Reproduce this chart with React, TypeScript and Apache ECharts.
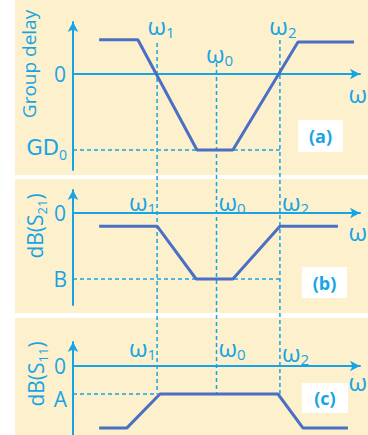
import React, { useEffect, useRef } from 'react';
import * as echarts from 'echarts';

const CYAN = '#18a4e4';
const LINE = '#4a6fc4';
const BEIGE = '#fdf0cd';
const FONT = '"Open Sans", "DejaVu Sans", sans-serif';

// frequency axis (arbitrary units)
const X_RANGE = [0, 10];
const OMEGA_SUBS = ['1', '0', '2'];
const OMEGA_VALUES = [2.93, 5.0, 7.21]; // ω1, ω0, ω2

// (a) group delay
const GD_X = [0.91, 2.26, 4.32, 5.57, 7.84, 9.79];
const GD_Y = [0.45, 0.45, -1, -1, 0.42, 0.42];
const GD_RANGE = [-1.263, 0.684];
const GD0 = -1;

// (b) dB(S21)
const S21_X = [0.91, 2.93, 4.29, 5.57, 7.21, 9.23];
const S21_Y = [-0.2, -0.2, -1, -1, -0.2, -0.2];
const S21_RANGE = [-1.394, 0.348];
const LEVEL_B = -1;

// (c) dB(S11)
const S11_X = [0.91, 1.88, 3.03, 7.14, 8.01, 9.58];
const S11_Y = [-2.21, -2.21, -1, -1, -2.21, -2.21];
const S11_RANGE = [-2.464, 0.857];
const LEVEL_A = -1;

// y tick labels: [zero label, level label]
const Y_TICK_LABELS = [
  ['0', '{w|GD}{s|0}'],
  ['0', 'B'],
  ['0', 'A'],
];

const zip = (xs: number[], ys: number[]) => xs.map((x, i) => [x, ys[i]]);

const axisLineStyle = () => ({
  show: true,
  onZero: true,
  symbol: ['none', 'arrow'],
  symbolSize: [8, 10],
  lineStyle: { color: CYAN, width: 2 },
});

export default function App() {
  const ref = useRef<HTMLDivElement>(null);
  useEffect(() => {
    if (!ref.current) return;
    const chart = echarts.init(ref.current, null, { renderer: 'svg' });
    const grids = [
      { left: 73, right: 8, top: 22, height: 148 },
      { left: 73, right: 8, top: 190, height: 115 },
      { left: 73, right: 8, top: 342, height: 93 },
    ];
    const ranges = [GD_RANGE, S21_RANGE, S11_RANGE];
    const levels = [GD0, LEVEL_B, LEVEL_A];
    const seriesData = [zip(GD_X, GD_Y), zip(S21_X, S21_Y), zip(S11_X, S11_Y)];
    const hEnds = [OMEGA_VALUES[2], OMEGA_VALUES[2], OMEGA_VALUES[0]];

    chart.setOption({
      animation: false,
      grid: grids,
      xAxis: grids.map((_, i) => ({
        type: 'value',
        gridIndex: i,
        min: X_RANGE[0],
        max: X_RANGE[1],
        axisLine: axisLineStyle(),
        axisTick: { show: false },
        axisLabel: { show: false },
        splitLine: { show: false },
      })),
      yAxis: grids.map((_, i) => ({
        type: 'value',
        gridIndex: i,
        min: ranges[i][0],
        max: ranges[i][1],
        axisLine: axisLineStyle(),
        axisTick: { show: false },
        splitLine: { show: false },
        axisLabel: { show: false },
      })),
      series: grids.map((_, i) => ({
        type: 'line',
        xAxisIndex: i,
        yAxisIndex: i,
        data: seriesData[i],
        symbol: 'none',
        z: 5,
        lineStyle: { color: LINE, width: 3 },
        markLine: {
          silent: true,
          symbol: ['none', 'none'],
          label: { show: false },
          lineStyle: { color: CYAN, width: 1.5, type: [4, 3] },
          data: [[{ coord: [0, levels[i]] }, { coord: [hEnds[i], levels[i]] }]],
        },
      })),
    });

    const px = (i: number, x: number, y: number) =>
      chart.convertToPixel({ gridIndex: i }, [x, y]) as number[];

    const omegaPx = OMEGA_VALUES.map((w) => px(0, w, 0)[0]);
    const bottomA = px(2, 0, LEVEL_A)[1];
    const zeroY = [0, 1, 2].map((i) => px(i, 0, 0)[1]);
    const levelY = [0, 1, 2].map((i) => px(i, 0, levels[i])[1]);
    const axisX = px(0, 0, 0)[0];

    const omegaRich = {
      m: { fontSize: 24, fontFamily: FONT, fill: CYAN, lineHeight: 28 },
      s: { fontSize: 15, fontFamily: FONT, fill: CYAN, verticalAlign: 'bottom', lineHeight: 28 },
    };
    const labelRich = {
      m: { fontSize: 21, fontFamily: FONT, fill: CYAN, lineHeight: 26 },
      w: { fontSize: 21, fontFamily: '"DejaVu Sans", sans-serif', fill: CYAN, lineHeight: 26 },
      s: { fontSize: 14, fontFamily: FONT, fill: CYAN, verticalAlign: 'bottom', lineHeight: 26 },
    };
    const textEl = (text: string, x: number, y: number, align: string, rich: any, extra: any = {}) => ({
      type: 'text',
      x,
      y,
      z: 100,
      ...extra,
      style: {
        text,
        rich,
        fontSize: 21,
        fontFamily: FONT,
        align,
        textAlign: align,
        verticalAlign: 'middle',
        textVerticalAlign: 'middle',
        fill: CYAN,
      },
    });
    const omegaText = (sub: string, x: number, y: number, align: string) =>
      textEl('{m|ω}{s|' + sub + '}', x, y, align, omegaRich);

    const graphics: any[] = [];
    // panel backgrounds
    [
      [15, 0, 353, 175],
      [15, 179, 353, 134],
      [15, 318, 353, 117],
    ].forEach(([x, y, w, h]) =>
      graphics.push({ type: 'rect', z: -10, shape: { x, y, width: w, height: h }, style: { fill: BEIGE } })
    );

    // vertical dashed guides
    const dashTops = [43, 63, 40];
    omegaPx.forEach((x, k) =>
      graphics.push({
        type: 'line',
        z: 1,
        shape: { x1: x, y1: dashTops[k], x2: x, y2: bottomA },
        style: { stroke: CYAN, lineWidth: 1.5, lineDash: [4, 3] },
      })
    );

    // y tick labels
    const levelDy = [-2, 0, 5];
    [0, 1, 2].forEach((i) => {
      graphics.push(textEl('{m|' + Y_TICK_LABELS[i][0] + '}', axisX - 7, zeroY[i], 'right', labelRich));
      const lv = Y_TICK_LABELS[i][1];
      graphics.push(textEl(lv.startsWith('{') ? lv : '{m|' + lv + '}', axisX - 6, levelY[i] + levelDy[i], 'right', labelRich));
    });

    // omega labels (a)
    graphics.push(omegaText(OMEGA_SUBS[0], omegaPx[0] + 4, 25, 'center'));
    graphics.push(omegaText(OMEGA_SUBS[1], omegaPx[1] + 3, 53, 'center'));
    graphics.push(omegaText(OMEGA_SUBS[2], omegaPx[2] + 3, 25, 'center'));
    // (b)
    graphics.push(omegaText(OMEGA_SUBS[0], omegaPx[0] - 1, zeroY[1] - 11, 'right'));
    graphics.push(omegaText(OMEGA_SUBS[1], omegaPx[1] + 2, zeroY[1] - 11, 'left'));
    graphics.push(omegaText(OMEGA_SUBS[2], omegaPx[2] + 2, zeroY[1] - 11, 'left'));
    // (c)
    graphics.push(omegaText(OMEGA_SUBS[0], omegaPx[0] - 1, zeroY[2] - 18, 'right'));
    graphics.push(omegaText(OMEGA_SUBS[1], omegaPx[1] + 2, zeroY[2] - 18, 'left'));
    graphics.push(omegaText(OMEGA_SUBS[2], omegaPx[2] + 2, zeroY[2] - 13, 'left'));

    // axis names ω
    [20, 19, 16].forEach((dy, i) =>
      graphics.push(textEl('{m|ω}', 367, zeroY[i] + dy, 'right', omegaRich))
    );

    // rotated y titles
    const yTitles = [
      { text: '{t|Group delay}', x: 29, y: 64 },
      { text: '{m|dB(S}{s|21}{m|)}', x: 35, y: 226 },
      { text: '{m|dB(S}{s|11}{m|)}', x: 36, y: 374 },
    ];
    yTitles.forEach((t) =>
      graphics.push(
        textEl(t.text, t.x, t.y, 'center', {
          t: { fontSize: 19, fontFamily: FONT, fill: CYAN },
          m: { fontSize: 21, fontFamily: FONT, fill: CYAN, lineHeight: 26 },
          s: { fontSize: 13, fontFamily: FONT, fill: CYAN, verticalAlign: 'bottom', lineHeight: 26 },
        }, { rotation: Math.PI / 2 })
      )
    );

    // panel tags
    [
      { t: '(a)', x: 298, y: 120, w: 45, h: 32 },
      { t: '(b)', x: 302, y: 267, w: 45, h: 31 },
      { t: '(c)', x: 302, y: 383, w: 46, h: 30 },
    ].forEach((b) => {
      graphics.push({ type: 'rect', z: 50, shape: { x: b.x, y: b.y, width: b.w, height: b.h }, style: { fill: '#ffffff' } });
      graphics.push({
        type: 'text',
        x: b.x + b.w / 2,
        y: b.y + b.h / 2,
        z: 60,
        style: { text: b.t, fontSize: 18, fontWeight: 'bold', fontFamily: FONT, fill: CYAN, align: 'center', textAlign: 'center', verticalAlign: 'middle', textVerticalAlign: 'middle' },
      });
    });

    chart.setOption({ graphic: { elements: graphics } });
    return () => chart.dispose();
  }, []);
  return <div ref={ref} style={{ width: 368, height: 435, position: 'absolute', left: 0, top: 0 }} />;
}
